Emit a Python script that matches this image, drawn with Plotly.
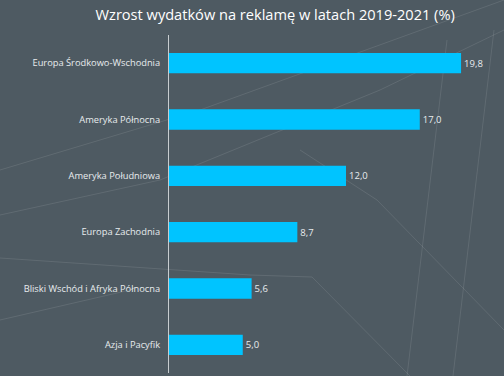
import plotly.graph_objects as go

categories = ["Europa Środkowo-Wschodnia", "Ameryka Północna", "Ameryka Południowa",
              "Europa Zachodnia", "Bliski Wschód i Afryka Północna", "Azja i Pacyfik"]
values = [19.8, 17.0, 12.0, 8.7, 5.6, 5.0]

fig = go.Figure(go.Bar(
    x=values, y=categories, orientation="h",
    marker=dict(color="#00C4FF", line=dict(width=0)),
    texttemplate="%{x:.1f}", textposition="outside",
    textfont=dict(color="#E8ECEE", size=9.5, family="Open Sans"),
    cliponaxis=False, hoverinfo="skip",
))

line_col = "rgba(255,255,255,0.10)"
deco = [
    [(0, 258), (250, 275), (312, 277), (410, 376)],
    [(447, 40), (407, 376)],
    [(494, 30), (453, 376)],
    [(300, 150), (377, 200), (504, 330)],
    [(0, 170), (200, 110), (504, 0)],
    [(0, 215), (160, 180), (380, 90), (504, 30)],
    [(0, 320), (130, 290)],
]
shapes = []
for pts in deco:
    for (x0, y0), (x1, y1) in zip(pts[:-1], pts[1:]):
        shapes.append(dict(type="line", xref="paper", yref="paper", layer="below",
                           x0=(x0 - 169) / 335, x1=(x1 - 169) / 335,
                           y0=(373 - y0) / 338, y1=(373 - y1) / 338,
                           line=dict(color=line_col, width=1)))

fig.update_layout(
    width=504, height=376,
    paper_bgcolor="#4E5A62", plot_bgcolor="rgba(0,0,0,0)",
    margin=dict(l=169, r=0, t=35, b=3, autoexpand=False),
    separators=", ",
    title=dict(text="Wzrost wydatków na reklamę w latach 2019-2021 (%)",
               x=0.546, xanchor="center", y=0.96, yanchor="middle",
               font=dict(color="#FFFFFF", size=14.6, family="Open Sans")),
    bargap=0.64,
    showlegend=False,
    shapes=shapes,
    font=dict(family="Open Sans"),
    hovermode=False,
)
fig.update_xaxes(range=[0, 22.71], visible=False, showgrid=False, zeroline=False)
fig.update_yaxes(autorange="reversed", showgrid=False, zeroline=False,
                 showline=True, linecolor="#C8CDD0", linewidth=1,
                 ticks="", ticklabelstandoff=6, automargin=False,
                 tickfont=dict(color="#E8ECEE", size=9.3, family="Open Sans"))

fig.write_html("out.html", config={"displayModeBar": False, "staticPlot": True},
               post_script="document.body.style.margin='0px';document.body.style.overflow='hidden';")
